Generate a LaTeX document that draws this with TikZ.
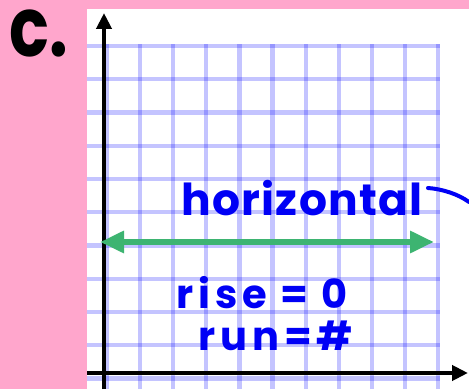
\documentclass[tikz,border=0pt]{standalone}
\usepackage{fontspec}
\usetikzlibrary{arrows.meta}
\newfontfamily\labfont{Poppins}
\newfontfamily\handfont[LetterSpace=12]{Poppins}
\newfontfamily\handfontb[LetterSpace=3]{Poppins}
\definecolor{bgpink}{RGB}{255,166,204}
\definecolor{gridblue}{RGB}{0,0,255}
\definecolor{linegreen}{RGB}{61,180,113}
\definecolor{inkblue}{RGB}{0,0,245}
\tikzset{
  gridline/.style={draw=gridblue, draw opacity=0.23, line width=4.2pt},
  axis/.style={draw=black, line width=4pt, -{Triangle[length=16pt,width=15pt]}},
  greenarrow/.style={draw=linegreen, line width=6pt, {Triangle[length=24pt,width=21pt]}-{Triangle[length=24pt,width=21pt]}},
  hand/.style={text=inkblue, font=\handfont\bfseries\fontsize{40}{40}\selectfont, inner sep=0pt, anchor=base},
  handb/.style={text=inkblue, font=\handfontb\bfseries\fontsize{44}{44}\selectfont, inner sep=0pt, anchor=base},
  ink/.style={draw=inkblue, line width=4pt, line cap=round}
}
\begin{document}
\begin{tikzpicture}[x=1pt,y=1pt]
\useasboundingbox (0,0) rectangle (469,389);
\fill[bgpink] (0,0) rectangle (469,389);
\fill[white] (87,0) rectangle (469,380);
% grid
\foreach \i in {0,...,10} {
  \draw[gridline] (107+33.1*\i,0) -- (107+33.1*\i,345);
  \draw[gridline] (87,343-33.25*\i) -- (440,343-33.25*\i);
}
% axes
\coordinate (yb) at (104,0);
\coordinate (yt) at (104,376);
\coordinate (xl) at (87,16);
\coordinate (xr) at (468,16);
\draw[axis] (yb) -- (yt);
\draw[axis] (xl) -- (xr);
% green line
\coordinate (gl) at (100,147);
\coordinate (gr) at (434,147);
\draw[greenarrow] (gl) -- (gr);
% label c.
\node[font=\labfont\bfseries\fontsize{66}{66}\selectfont, inner sep=0pt, anchor=base west, yscale=1.25] (lab) at (9,332) {c.};
% handwriting
\node[handb] (hz) at (302,174) {horizontal};
\coordinate (ts) at (428,201);
\coordinate (te) at (469,187);
\draw[ink] (ts) .. controls (442,200) and (458,195) .. (te);
\node[hand] (rise) at (262,81) {rise = 0};
\node[hand] (run) at (276,39) {run=\#};
\end{tikzpicture}
\end{document}
